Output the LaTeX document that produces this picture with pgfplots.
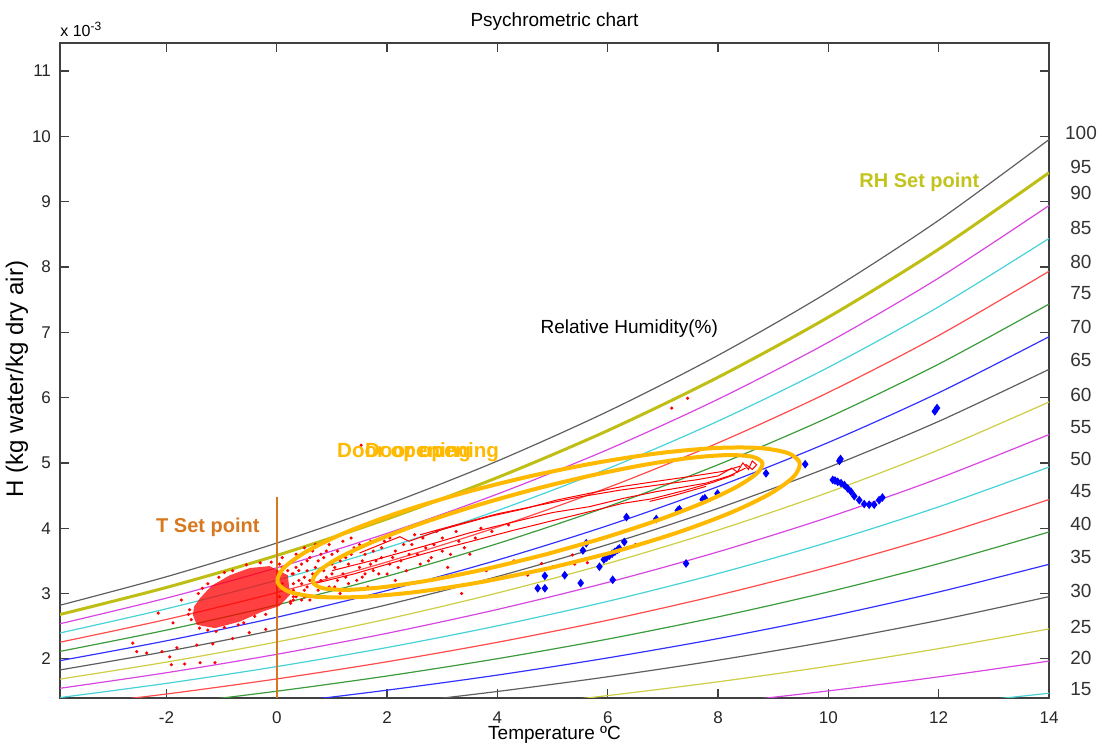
\documentclass[border=0pt]{standalone}
\usepackage{pgfplots}
\pgfplotsset{compat=1.18}
\usepackage{fontspec}
\setmainfont{Liberation Sans}
\definecolor{mk}{RGB}{95,95,95}
\definecolor{my}{RGB}{205,205,70}
\definecolor{myt}{RGB}{190,190,20}
\definecolor{mm}{RGB}{215,70,225}
\definecolor{mc}{RGB}{70,210,215}
\definecolor{mr}{RGB}{255,75,75}
\definecolor{mg}{RGB}{60,155,60}
\definecolor{mb}{RGB}{50,50,255}
\definecolor{dor}{RGB}{255,185,0}
\definecolor{tor}{RGB}{215,120,30}
\definecolor{rhc}{RGB}{195,195,30}
\begin{document}
\begin{tikzpicture}
\path[use as bounding box] (-30pt,-23pt) rectangle (522pt,349pt);
\begin{axis}[
  at={(0,0)}, anchor=south west,
  scale only axis, width=494.5pt, height=327.5pt,
  xmin=-3.93, xmax=14, ymin=1.4, ymax=11.43,
  xtick={-2,0,2,4,6,8,10,12,14}, ytick={2,3,4,5,6,7,8,9,10,11},
  tick align=inside, major tick length=4.5pt,
  axis line style={black!75, line width=0.6pt},
  every tick/.style={black!75, line width=0.6pt},
  tick label style={font=\fontsize{8.5}{10}\selectfont, text=black!85},
  xticklabel style={yshift=-3.5pt},
  yticklabel style={xshift=-1pt},
  /pgf/number format/assume math mode=true,
  clip mode=individual,
  every axis plot/.append style={line width=0.6pt},
]
% RH curves (x = -4,-2,...,14)
\addplot[mk, smooth] coordinates {(-4,2.805) (-2,3.257) (0,3.773) (2,4.361) (4,5.029) (6,5.788) (8,6.647) (10,7.618) (12,8.715) (14,9.951)};
\addplot[myt, smooth, line width=1.5pt] coordinates {(-4,2.664) (-2,3.093) (0,3.583) (2,4.142) (4,4.776) (6,5.495) (8,6.311) (10,7.232) (12,8.272) (14,9.444)};
\addplot[mm, smooth] coordinates {(-4,2.523) (-2,2.930) (0,3.394) (2,3.922) (4,4.523) (6,5.204) (8,5.975) (10,6.847) (12,7.831) (14,8.940)};
\addplot[mc, smooth] coordinates {(-4,2.383) (-2,2.766) (0,3.204) (2,3.703) (4,4.270) (6,4.912) (8,5.640) (10,6.463) (12,7.391) (14,8.437)};
\addplot[mr, smooth] coordinates {(-4,2.242) (-2,2.603) (0,3.015) (2,3.484) (4,4.017) (6,4.621) (8,5.306) (10,6.079) (12,6.951) (14,7.934)};
\addplot[mg, smooth] coordinates {(-4,2.102) (-2,2.440) (0,2.825) (2,3.265) (4,3.764) (6,4.330) (8,4.972) (10,5.696) (12,6.513) (14,7.432)};
\addplot[mb, smooth] coordinates {(-4,1.961) (-2,2.276) (0,2.636) (2,3.046) (4,3.512) (6,4.040) (8,4.638) (10,5.313) (12,6.074) (14,6.932)};
\addplot[mk, smooth] coordinates {(-4,1.820) (-2,2.113) (0,2.447) (2,2.828) (4,3.260) (6,3.750) (8,4.304) (10,4.931) (12,5.636) (14,6.432)};
\addplot[my, smooth] coordinates {(-4,1.680) (-2,1.950) (0,2.258) (2,2.609) (4,3.008) (6,3.460) (8,3.971) (10,4.549) (12,5.199) (14,5.932)};
\addplot[mm, smooth] coordinates {(-4,1.540) (-2,1.787) (0,2.069) (2,2.391) (4,2.756) (6,3.170) (8,3.638) (10,4.167) (12,4.763) (14,5.434)};
\addplot[mc, smooth] coordinates {(-4,1.399) (-2,1.624) (0,1.881) (2,2.173) (4,2.505) (6,2.880) (8,3.306) (10,3.786) (12,4.327) (14,4.936)};
\addplot[mr, smooth] coordinates {(-4,1.259) (-2,1.461) (0,1.692) (2,1.955) (4,2.253) (6,2.591) (8,2.974) (10,3.405) (12,3.891) (14,4.439)};
\addplot[mg, smooth] coordinates {(-4,1.119) (-2,1.299) (0,1.504) (2,1.737) (4,2.002) (6,2.302) (8,2.642) (10,3.025) (12,3.457) (14,3.942)};
\addplot[mb, smooth] coordinates {(-4,0.979) (-2,1.136) (0,1.315) (2,1.520) (4,1.751) (6,2.014) (8,2.310) (10,2.645) (12,3.023) (14,3.447)};
\addplot[mk, smooth] coordinates {(-4,0.839) (-2,0.974) (0,1.127) (2,1.302) (4,1.500) (6,1.725) (8,1.979) (10,2.266) (12,2.589) (14,2.952)};
\addplot[my, smooth] coordinates {(-4,0.699) (-2,0.811) (0,0.939) (2,1.085) (4,1.250) (6,1.437) (8,1.648) (10,1.887) (12,2.156) (14,2.458)};
\addplot[mm, smooth] coordinates {(-4,0.559) (-2,0.649) (0,0.751) (2,0.867) (4,0.999) (6,1.149) (8,1.318) (10,1.509) (12,1.724) (14,1.965)};
\addplot[mc, smooth] coordinates {(-4,0.419) (-2,0.486) (0,0.563) (2,0.650) (4,0.749) (6,0.861) (8,0.988) (10,1.131) (12,1.292) (14,1.473)};
% T set point line
\addplot[tor, line width=1pt] coordinates {(0,1.4) (0,4.48)};
% dense cluster of measurements
\addplot[red, fill=red, fill opacity=0.75, draw=none] coordinates {(-1.52,2.67) (-1.45,2.52) (-1.12,2.47) (-0.67,2.57) (-0.27,2.72) (0.05,2.81) (0.24,2.98) (0.20,3.28) (-0.13,3.42) (-0.49,3.39) (-0.85,3.28) (-1.18,3.12) (-1.39,2.93) (-1.50,2.80) (-1.52,2.67)};
% scattered measurements
\addplot[only marks, mark=*, mark size=0.45pt, red, mark options={draw=red, fill=red}] coordinates {
(-1.58,2.75) (-1.55,2.6) (-1.4,2.47) (-1.25,2.44) (-0.95,2.48) (-0.7,2.52) (-1.42,3.0) (-1.25,3.15) (-1.05,3.25) (-0.8,3.35) (-0.55,3.44) (-0.3,3.47) (-0.1,3.48) (0.1,3.4) (0.3,2.95) (0.3,3.15) (-0.4,2.65) (-0.2,2.68) (-1.6,2.68) (-1.1,2.42) (-0.6,2.55) (0.25,2.88) (0.28,3.3) (-1.35,3.08) (-0.95,3.32)
(0.3,3.05) (0.4,3.35) (0.5,2.95) (0.55,3.5) (0.6,3.2) (0.7,3.4) (0.75,3.05) (0.8,3.6) (0.9,3.25) (1.0,3.45) (1.05,3.1) (1.1,3.65) (1.2,3.3) (1.25,3.55) (1.3,3.15) (1.4,3.7) (1.5,3.4) (1.55,3.25) (1.6,3.6) (1.7,3.8) (1.75,3.35) (1.8,3.5) (1.9,3.7) (2.0,3.3) (2.05,3.85) (2.1,3.55) (2.2,3.4) (2.3,3.75) (2.4,3.6) (2.5,3.9) (2.6,3.45) (2.7,3.7) (2.8,3.55) (2.9,3.95) (3.0,3.65) (3.1,3.4) (3.3,3.8) (3.5,3.6) (3.7,4.0) (0.35,3.6) (0.45,3.15) (0.65,3.65) (0.95,3.75) (1.15,3.0) (1.35,3.85) (0.2,3.45) (0.25,2.85) (0.6,2.9) (0.85,3.55) (1.65,3.1) (2.15,3.2) (0.4,3.0) (0.5,3.25) (0.7,3.15) (1.0,3.3) (0.3,3.3)
(0.05,3.45) (0.1,3.55) (0.15,3.05) (0.3,3.5) (0.35,2.95) (0.45,3.45) (0.5,3.7) (0.55,3.1) (0.6,3.55) (0.65,3.3) (0.7,3.75) (0.75,3.5) (0.8,3.2) (0.85,3.35) (0.9,3.65) (0.95,3.1) (1.0,3.6) (1.05,3.4) (1.1,3.2) (1.15,3.5) (1.2,3.8) (1.25,3.25) (1.3,3.45) (1.35,3.6) (1.45,3.2) (1.5,3.75) (1.55,3.5) (1.6,3.3) (1.7,3.45) (1.75,3.65) (1.85,3.3) (1.9,3.55) (1.95,3.8) (2.05,3.45) (2.15,3.65) (2.25,3.5) (2.35,3.35) (2.45,3.75) (2.55,3.6) (2.65,3.85) (2.75,3.5) (2.85,3.75) (3.0,3.85) (3.15,3.6) (3.25,3.95) (3.4,3.7) (3.6,3.85) (3.9,3.95) (4.2,4.05)
(0.05,2.95) (0.1,3.15) (0.2,3.35) (0.3,2.9) (0.4,3.2) (0.35,3.4) (0.5,3.05) (0.55,3.35) (0.45,2.9)
(3.26,3.11) (3.35,3.0) (4.10,3.24) (4.55,3.28) (4.80,3.46) (5.0,3.41) (5.36,3.59) (5.40,3.45) (5.63,3.47) (4.3,3.5) (3.8,3.35) (6.5,3.75)
(-1.73,2.9) (-2.15,2.70) (-1.88,2.55) (-2.61,2.24) (-2.54,2.11) (-2.36,2.09) (-2.08,2.11) (-1.81,2.17) (-1.94,2.03) (-1.67,1.92) (-1.45,2.21) (-1.16,2.23) (-1.12,1.94) (-0.80,2.31) (-1.91,1.91) (-1.39,1.94) (-0.5,2.4) (-0.2,2.45)
(1.53,5.27) (7.16,5.84) (7.45,5.99)};
% trajectories
\addplot[red, line width=0.5pt] coordinates {(0.72,3.16) (1.4,3.3) (2.05,3.46) (2.8,3.64) (3.62,3.82) (4.3,3.97) (5.07,4.13) (5.7,4.26) (6.27,4.38) (6.8,4.45) (7.4,4.58) (7.9,4.7) (8.3,4.82)};
\addplot[red, line width=0.5pt] coordinates {(1.0,3.35) (1.8,3.52) (2.65,3.72) (3.5,3.93) (4.46,4.13) (5.0,4.24) (5.67,4.33) (6.3,4.46) (6.88,4.56) (7.3,4.62) (7.78,4.69) (8.2,4.8) (8.5,4.92)};
\addplot[red, line width=0.5pt] coordinates {(1.5,3.62) (2.23,3.87) (2.4,3.8) (3.0,3.98) (3.86,4.18) (4.5,4.3) (5.07,4.43) (5.7,4.54) (6.27,4.64) (6.9,4.72) (7.48,4.79) (8.09,4.87) (8.4,4.95)};
\addplot[red, line width=0.5pt] coordinates {(2.6,3.9) (3.2,4.04) (4.0,4.22) (4.8,4.36) (5.5,4.48) (6.2,4.58) (6.9,4.66) (7.6,4.74) (8.0,4.8) (8.25,4.92) (8.35,4.86) (8.45,5.0) (8.55,4.9) (8.62,5.03) (8.7,4.97) (8.62,4.9) (8.5,4.98)};
\addplot[red, line width=0.5pt] coordinates {(6.76,4.41) (7.2,4.5) (7.78,4.64)};
% second data set
\addplot[only marks, mark=diamond*, mark size=1.7pt, mark options={draw=blue, fill=blue}] coordinates {
(11.93,5.79) (11.97,5.84) (9.58,4.98) (10.2,5.03) (10.22,5.06)
(10.08,4.74) (10.17,4.71) (10.29,4.66) (10.35,4.61) (10.41,4.56) (10.47,4.49) (10.56,4.43) (10.65,4.37) (10.74,4.36) (10.83,4.36) (10.92,4.43) (10.98,4.47) (10.12,4.73) (10.23,4.69)
(8.87,4.84) (7.99,4.53) (7.72,4.44) (7.76,4.46) (7.27,4.27) (7.30,4.29) (6.88,4.14) (6.34,4.17) (6.30,3.79)
(5.93,3.52) (5.98,3.55) (6.03,3.58) (6.08,3.61) (6.13,3.64) (6.18,3.67) (6.21,3.69)
(5.85,3.41) (5.55,3.66) (5.61,3.77) (7.42,3.46) (6.09,3.21) (5.51,3.16) (5.22,3.28) (4.86,3.27) (4.86,3.08) (4.73,3.08)};
% door opening ellipses
\addplot[dor, line width=2pt, smooth] coordinates {(4.936,3.387) (3.704,3.175) (2.543,3.025) (1.533,2.948) (0.741,2.949) (0.223,3.027) (0.013,3.177) (0.125,3.390) (0.553,3.650) (1.264,3.940) (2.216,4.240) (3.339,4.530) (4.557,4.789) (5.789,5.001) (6.949,5.151) (7.960,5.228) (8.752,5.228) (9.270,5.149) (9.480,4.999) (9.368,4.787) (8.940,4.526) (8.228,4.237) (7.277,3.937) (6.154,3.647) (4.936,3.387)};
\addplot[dor, line width=2pt, smooth] coordinates {(4.881,3.600) (3.821,3.381) (2.823,3.210) (1.955,3.100) (1.275,3.056) (0.831,3.083) (0.653,3.178) (0.752,3.336) (1.122,3.544) (1.739,3.790) (2.558,4.056) (3.526,4.324) (4.576,4.576) (5.636,4.795) (6.634,4.966) (7.502,5.077) (8.181,5.120) (8.625,5.093) (8.804,4.998) (8.704,4.841) (8.334,4.632) (7.718,4.386) (6.898,4.120) (5.930,3.852) (4.881,3.600)};
% annotations
\node[tor, font=\fontsize{10}{12}\selectfont\bfseries] at (axis cs:-1.25,4.02) {T Set point};
\node[rhc, font=\fontsize{10}{12}\selectfont\bfseries] at (axis cs:11.65,9.30) {RH Set point};
\node[font=\fontsize{9.5}{11}\selectfont] at (axis cs:6.39,7.05) {Relative Humidity(\%)};
\node[dor, anchor=west, inner sep=0pt, font=\fontsize{10.3}{12}\selectfont\bfseries] at (axis cs:1.087,5.17) {Door opening};
\node[dor, anchor=west, inner sep=0pt, font=\fontsize{10.3}{12}\selectfont\bfseries] at (axis cs:1.594,5.17) {Door opening};
% RH percentage labels
\begin{scope}[every node/.style={font=\fontsize{9.5}{11}\selectfont, text=black!80}]
\node at (axis cs:14.58,10.05) {100};
\node at (axis cs:14.58,9.53) {95};
\node at (axis cs:14.58,9.13) {90};
\node at (axis cs:14.58,8.59) {85};
\node at (axis cs:14.58,8.07) {80};
\node at (axis cs:14.58,7.60) {75};
\node at (axis cs:14.58,7.08) {70};
\node at (axis cs:14.58,6.57) {65};
\node at (axis cs:14.58,6.04) {60};
\node at (axis cs:14.58,5.55) {55};
\node at (axis cs:14.58,5.06) {50};
\node at (axis cs:14.58,4.57) {45};
\node at (axis cs:14.58,4.07) {40};
\node at (axis cs:14.58,3.56) {35};
\node at (axis cs:14.58,3.04) {30};
\node at (axis cs:14.58,2.49) {25};
\node at (axis cs:14.58,2.02) {20};
\node at (axis cs:14.58,1.54) {15};
\end{scope}
% titles and labels
\node[font=\fontsize{9.5}{11}\selectfont] at ([yshift=10.5pt]rel axis cs:0.5,1) {Psychrometric chart};
\node[font=\fontsize{9.5}{11}\selectfont] at ([yshift=-18.5pt]rel axis cs:0.5,0) {Temperature ºC};
\node[rotate=90, font=\fontsize{12}{14}\selectfont] at ([xshift=-21.5pt, yshift=-4.25pt]rel axis cs:0,0.5) {H (kg water/kg dry air)};
\node[anchor=south west, inner sep=0pt, font=\fontsize{8}{9}\selectfont] at ([yshift=3pt]rel axis cs:0,1) {x 10\textsuperscript{-3}};
\end{axis}
\end{tikzpicture}
\end{document}
